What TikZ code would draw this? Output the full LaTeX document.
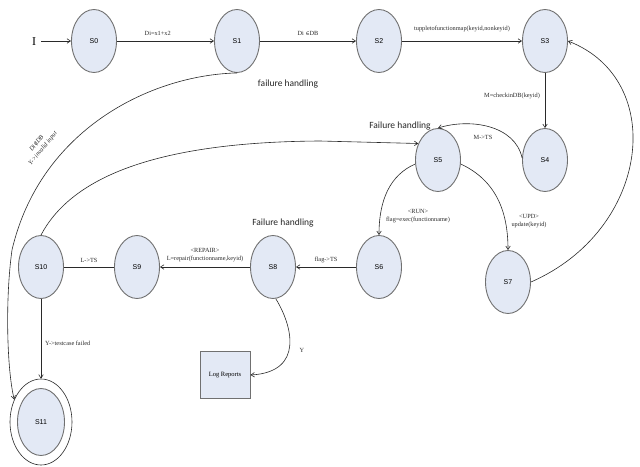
\documentclass[tikz,border=0pt]{standalone}
\usepackage{fontspec}
\setmainfont{Liberation Serif}
\newfontfamily\statefont{Liberation Sans}
\newfontfamily\fhfont{Carlito}
\newfontfamily\symfont{DejaVu Serif}
\usetikzlibrary{shapes.geometric,arrows.meta}
\definecolor{stfill}{HTML}{E3E9F5}
\definecolor{stedge}{HTML}{707070}
\definecolor{ln}{HTML}{2A2A2A}
\tikzset{
  st/.style={ellipse,draw=stedge,line width=0.9pt,fill=stfill,minimum width=45pt,minimum height=63pt,inner sep=0pt,font=\statefont\fontsize{7}{8}\selectfont},
  lbl/.style={font=\fontsize{6.3}{8}\selectfont,inner sep=1pt,align=center,text=ln},
  fh/.style={font=\fhfont\fontsize{9.5}{11}\selectfont,inner sep=1pt,text=black!85},
  con/.style={draw=ln,line width=0.6pt},
  arr/.style={con,-{Straight Barb[length=3.5pt,width=4.5pt]}}
}
\begin{document}
\begin{tikzpicture}[x=1pt,y=-1pt]
\useasboundingbox (0,0) rectangle (640,466);
% states
\node[st] (S0) at (94,41) {S0};
\node[st] (S1) at (237,41) {S1};
\node[st] (S2) at (379,41) {S2};
\node[st] (S3) at (545,41) {S3};
\node[st] (S4) at (545,160) {S4};
\node[st] (S5) at (438,160) {S5};
\node[st] (S6) at (379,267) {S6};
\node[st] (S7) at (508,282) {S7};
\node[st] (S8) at (273,267) {S8};
\node[st] (S9) at (137,267) {S9};
\node[st] (S10) at (41,267) {S10};
\node[ellipse,draw=ln,line width=0.6pt,fill=white,minimum width=62pt,minimum height=86pt,inner sep=0pt] (S11o) at (41,422) {};
\node[st,minimum width=47pt,minimum height=67pt] (S11) at (41,422) {S11};
\node[draw=stedge,line width=0.9pt,fill=stfill,minimum width=50pt,minimum height=47pt,inner sep=0pt,font=\fontsize{6.5}{8}\selectfont] (LR) at (225,375) {Log Reports};
% start
\node[font=\fontsize{12}{12}\selectfont,inner sep=1pt] (I) at (34,42) {I};
\draw[arr] (I.east) ++(4,-1) coordinate (Ie) (Ie) -- (S0.west);
% top row
\draw[arr] (S0) -- node[lbl,above=4pt,pos=0.42] {Di=x1+x2} (S1);
\draw[arr] (S1) -- node[lbl,above=4pt] {Di {\symfont\fontsize{5.5}{7}\selectfont ∈}DB} (S2);
\draw[arr] (S2) -- node[lbl,above=8pt] {tuppletofunctionmap(keyid,nonkeyid)} (S3);
\draw[arr] (S3) -- (S4);
\node[lbl] at (512,96) {M=checkinDB(keyid)};
% S4 -> S5
\draw[arr] (S4.175) .. controls (515,125) and (470,118) .. (S5.north);
\node[lbl] at (483,137) {M->TS};
\node[fh] at (400,126) {Failure handling};
% S5 -> S6, S7
\draw[arr] (S5.190) .. controls (390,175) and (379,200) .. (S6.north);
\node[lbl] at (418,216) {<RUN>\\flag=exec(functionname)};
\draw[arr] (S5.-10) .. controls (495,180) and (508,210) .. (S7.north);
\node[lbl] at (529,221) {<UPD>\\update(keyid)};
% S7 -> S3
\draw[arr] (S7.east) .. controls (650,230) and (668,80) .. (S3.east);
% bottom row
\draw[arr] (S6) -- node[lbl,above=3pt] {flag->TS} (S8);
\draw[arr] (S8) -- node[lbl,above=4pt] {<REPAIR>\\L=repair(functionname,keyid)} (S9);
\draw[con] (S9) -- node[lbl,above=3pt] {L->TS} (S10);
\node[fh] at (283,223) {Failure handling};
% S10 -> S5
\draw[arr] (S10.north) .. controls (70,180) and (150,142) .. (320,141) -- (S5.140);
% S10 -> S11
\draw[arr] (S10.south) -- (S11o.north);
\node[lbl,anchor=west] at (44,343) {Y->testcase failed};
% S1 -> S11
\draw[arr] (S1.south) .. controls (150,75) and (40,130) .. (12,250) .. controls (5,300) and (7,370) .. (S11o.140);
\node[lbl,rotate=51,font=\itshape\fontsize{6.3}{8}\selectfont] at (40,146) {Di{\symfont\fontsize{5.5}{7}\selectfont ∉}DB\\Y->invalid input};
\node[fh] at (288,84) {failure handling};
% S8 -> Log
\draw[arr] (S8.-85) .. controls (292,325) and (305,372) .. (LR.east);
\node[lbl] at (302,350) {Y};
\end{tikzpicture}
\end{document}
